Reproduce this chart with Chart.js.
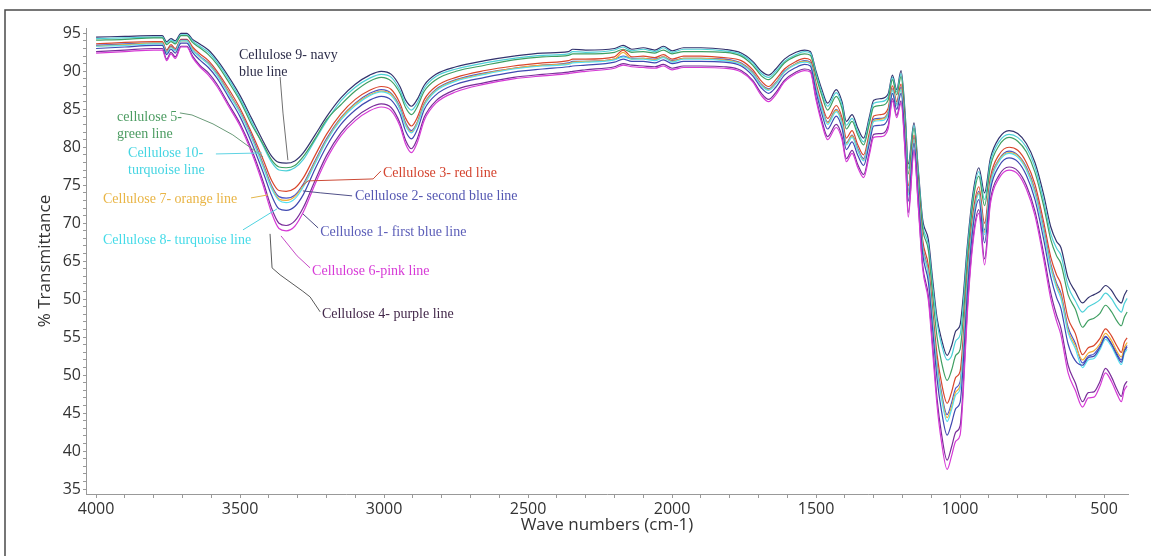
<!DOCTYPE html>
<html>
<head>
<meta charset="utf-8">
<script src="https://cdn.jsdelivr.net/npm/chart.js@4.4.1/dist/chart.umd.min.js"></script>
<style>
  html, body { margin: 0; padding: 0; background: #fff; }
  #wrap { width: 1151px; height: 556px; }
</style>
</head>
<body>
<div id="wrap"><canvas id="myChart" width="1151" height="556"></canvas></div>
<script>

var waveNumbers = [4000,3900,3800,3770,3755,3740,3725,3705,3685,3665,
  3640,3610,3580,3540,3500,3460,3420,3390,3365,3340,
  3310,3280,3240,3200,3150,3100,3050,3010,2975,2945,
  2925,2905,2885,2860,2820,2750,2650,2550,2450,2360,
  2345,2300,2200,2170,2140,2100,2060,2030,2000,1960,
  1900,1820,1760,1720,1690,1665,1640,1610,1570,1540,
  1520,1500,1480,1460,1430,1410,1395,1375,1355,1335,
  1315,1300,1275,1250,1235,1220,1205,1190,1180,1160,
  1145,1130,1110,1095,1080,1065,1045,1030,1015,1000,
  990,975,955,935,915,895,865,830,800,770,
  740,710,685,665,650,625,600,575,555,535,
  515,495,475,455,440,430,420];

var cellulose1 = [93.0,93.2,93.4,93.4,92.2,92.9,92.4,93.7,93.7,92.5,
  91.5,90.5,89.1,86.6,84.0,80.6,76.7,73.6,71.9,71.7,
  72.2,73.8,77.1,80.1,83.0,84.9,86.2,86.7,86.2,84.4,
  82.1,81.1,82.3,85.0,86.9,88.3,89.2,89.9,90.3,90.6,
  90.7,90.8,91.2,91.6,91.3,91.3,91.1,91.5,91.0,91.3,
  91.3,91.2,90.7,89.4,87.8,87.1,87.9,89.5,90.5,90.9,
  90.7,87.3,84.4,82.4,84.1,82.5,79.7,80.7,78.9,77.6,
  80.5,82.8,82.9,83.8,87.1,85.0,87.1,80.2,72.9,80.5,
  73.5,66.0,62.2,55.9,49.5,45.4,42.1,43.6,45.6,46.4,
  50.9,60.7,69.5,73.1,67.4,74.3,77.5,78.6,78.1,76.3,
  73.1,67.9,62.9,60.2,58.8,54.1,51.9,51.3,52.3,52.5,
  53.6,55.0,54.1,52.6,51.7,53.1,53.7];

var cellulose2 = [93.4,93.6,93.7,93.7,92.6,93.3,92.8,94.1,94.1,92.9,
  92.0,91.1,89.7,87.3,84.7,81.5,77.8,74.9,73.5,73.3,
  73.7,75.2,78.2,81.1,83.9,85.8,87.1,87.6,87.1,85.3,
  83.2,82.2,83.3,85.8,87.6,88.9,89.8,90.4,90.8,91.1,
  91.3,91.3,91.6,92.0,91.7,91.7,91.6,91.9,91.4,91.7,
  91.7,91.6,91.1,89.9,88.3,87.7,88.5,90.0,91.0,91.4,
  91.2,88.0,85.3,83.3,85.0,83.4,80.6,81.6,79.8,78.5,
  81.4,83.7,83.8,84.6,87.7,85.7,87.9,81.1,74.2,81.2,
  74.4,67.1,63.6,57.6,51.5,47.8,44.8,46.3,48.3,49.1,
  53.2,62.3,70.6,74.2,69.1,75.4,78.4,79.5,79.0,77.4,
  74.4,69.4,64.6,62.1,60.8,56.3,54.2,51.6,52.5,52.8,
  53.8,55.1,54.2,52.8,52.0,53.3,53.9];

var cellulose3 = [93.6,93.8,93.9,93.9,92.8,93.5,93.0,94.2,94.2,93.2,
  92.3,91.4,90.0,87.7,85.1,81.9,78.4,75.6,74.3,74.2,
  74.6,76.0,78.9,81.7,84.4,86.3,87.5,88.0,87.6,85.8,
  83.8,82.8,83.9,86.3,88.0,89.2,90.1,90.7,91.1,91.4,
  91.6,91.6,91.9,92.8,91.9,92.0,91.8,92.2,91.6,92.0,
  92.0,91.8,91.4,90.2,88.7,88.0,88.9,90.3,91.3,91.7,
  91.5,88.4,85.7,83.8,85.5,83.9,81.2,82.2,80.3,79.0,
  81.9,84.1,84.3,85.1,88.1,86.0,88.3,81.7,74.9,81.6,
  74.9,67.8,64.4,58.5,52.7,49.1,46.3,47.7,49.7,50.5,
  54.5,63.2,71.3,74.8,70.0,76.0,79.0,80.0,79.6,78.0,
  75.1,70.2,65.5,63.2,62.0,57.5,55.5,52.7,53.6,53.9,
  54.8,56.1,55.2,53.8,53.0,54.3,54.9];

var cellulose4 = [92.6,92.8,93.0,93.0,91.6,92.5,91.9,93.3,93.3,92.0,
  90.8,89.8,88.3,85.7,83.1,79.7,75.5,71.9,70.0,69.7,
  70.3,72.1,75.6,78.9,81.9,83.9,85.2,85.7,85.2,83.2,
  80.9,79.8,81.1,84.0,86.1,87.6,88.5,89.2,89.6,89.9,
  90.0,90.2,90.6,91.0,90.8,90.7,90.6,90.9,90.4,90.7,
  90.7,90.6,90.1,88.8,87.1,86.3,87.2,88.8,89.9,90.3,
  90.1,86.5,83.5,81.4,83.0,81.4,78.5,79.6,77.7,76.4,
  79.4,81.7,81.8,82.8,86.4,84.2,86.1,78.9,71.4,79.7,
  72.4,64.5,60.4,53.8,46.9,42.4,38.8,40.5,42.5,43.3,
  48.0,58.7,68.0,71.8,65.3,73.0,76.3,77.4,76.9,75.0,
  71.6,66.0,60.8,57.9,56.2,51.3,49.0,46.5,47.7,47.8,
  49.1,50.9,49.8,48.1,47.2,48.6,49.2];

var cellulose5 = [94.1,94.2,94.4,94.4,93.5,93.9,93.6,94.7,94.7,93.8,
  93.1,92.2,90.9,88.6,86.1,83.0,80.4,78.3,77.4,77.3,
  77.6,78.8,81.1,83.6,85.6,87.4,88.7,89.2,88.7,87.1,
  85.2,84.3,85.3,87.4,88.9,90.0,90.8,91.5,91.9,92.1,
  92.3,92.3,92.5,92.9,92.5,92.6,92.4,92.8,92.3,92.6,
  92.6,92.5,92.0,90.8,89.4,88.9,89.7,91.1,92.0,92.3,
  92.1,89.3,86.8,84.9,86.7,85.1,82.4,83.4,81.6,80.3,
  83.1,85.3,85.5,86.2,88.9,86.9,89.3,83.0,76.5,82.5,
  76.1,69.3,66.4,60.4,55.0,51.8,49.3,50.6,52.6,53.4,
  57.1,65.0,72.8,76.2,72.3,77.4,80.2,81.3,80.8,79.4,
  76.7,72.3,67.8,65.7,64.7,60.6,58.7,56.3,57.2,57.5,
  58.1,59.2,58.4,57.1,56.5,57.6,58.3];

var cellulose6 = [92.4,92.6,92.8,92.8,91.4,92.3,91.7,93.2,93.2,91.8,
  90.6,89.5,88.0,85.4,82.8,79.3,75.0,71.3,69.3,69.0,
  69.6,71.5,75.1,78.4,81.5,83.5,84.8,85.3,84.8,82.8,
  80.4,79.3,80.6,83.6,85.8,87.3,88.3,89.0,89.4,89.7,
  89.8,90.0,90.4,90.8,90.6,90.5,90.4,90.7,90.2,90.5,
  90.5,90.4,89.9,88.6,86.8,86.0,86.9,88.6,89.7,90.1,
  89.9,86.2,83.1,81.0,82.6,81.0,78.1,79.2,77.3,76.0,
  79.0,81.3,81.4,82.4,86.1,83.9,85.8,78.5,70.8,79.4,
  72.0,64.0,59.8,53.0,46.0,41.3,37.6,39.3,41.3,42.1,
  47.0,58.0,67.5,71.3,64.5,72.5,75.9,77.0,76.5,74.5,
  71.0,65.3,60.0,57.1,55.3,50.3,48.0,45.8,47.0,47.1,
  48.5,50.3,49.2,47.5,46.5,48.0,48.6];

var cellulose7 = [93.3,93.5,93.7,93.7,92.5,93.2,92.7,94.0,94.0,92.9,
  91.9,91.0,89.6,87.2,84.6,81.3,77.6,74.7,73.2,73.0,
  73.5,75.0,78.0,80.9,83.8,85.7,86.9,87.4,87.0,85.1,
  83.0,82.0,83.2,85.7,87.5,88.8,89.7,90.4,90.8,91.0,
  91.2,91.3,91.6,92.5,91.6,91.7,91.5,91.9,91.3,91.7,
  91.7,91.5,91.0,89.8,88.2,87.6,88.4,89.9,91.0,91.3,
  91.1,87.9,85.1,83.2,84.9,83.3,80.5,81.5,79.6,78.3,
  81.3,83.5,83.7,84.5,87.6,85.6,87.7,81.0,74.0,81.1,
  74.3,66.9,63.4,57.3,51.2,47.4,44.4,45.8,47.8,48.6,
  52.9,62.0,70.4,74.0,68.8,75.2,78.3,79.3,78.9,77.2,
  74.2,69.1,64.3,61.8,60.5,55.9,53.9,52.0,52.9,53.2,
  54.1,55.5,54.6,53.1,52.4,53.6,54.3];

var cellulose8 = [93.3,93.4,93.6,93.6,92.4,93.1,92.7,94.0,94.0,92.8,
  91.9,90.9,89.5,87.0,84.5,81.2,77.4,74.5,73.0,72.7,
  73.2,74.8,77.8,80.8,83.6,85.5,86.8,87.3,86.8,85.0,
  82.8,81.9,83.0,85.5,87.4,88.7,89.6,90.3,90.7,90.9,
  91.1,91.2,91.5,91.9,91.6,91.6,91.4,91.8,91.2,91.6,
  91.6,91.4,90.9,89.7,88.1,87.5,88.3,89.9,90.9,91.2,
  91.0,87.8,85.0,83.0,84.7,83.1,80.3,81.3,79.5,78.2,
  81.1,83.4,83.5,84.3,87.5,85.5,87.6,80.8,73.7,81.0,
  74.1,66.7,63.2,57.0,50.8,47.0,43.9,45.4,47.4,48.2,
  52.5,61.8,70.2,73.8,68.5,75.0,78.1,79.2,78.7,77.0,
  73.9,68.9,64.0,61.5,60.1,55.6,53.5,51.0,52.0,52.2,
  53.3,54.7,53.8,52.3,51.4,52.8,53.4];

var cellulose9 = [94.5,94.6,94.7,94.7,93.9,94.3,94.0,95.0,95.0,94.2,
  93.6,92.8,91.5,89.3,86.8,83.8,80.8,78.8,78.0,77.9,
  78.2,79.3,81.6,84.0,86.5,88.3,89.5,90.0,89.6,88.0,
  86.2,85.4,86.3,88.2,89.6,90.6,91.4,92.0,92.4,92.6,
  92.9,92.8,93.0,93.4,92.9,93.1,92.8,93.3,92.7,93.1,
  93.1,92.9,92.4,91.3,90.0,89.5,90.3,91.6,92.5,92.8,
  92.6,90.0,87.6,85.8,87.6,86.0,83.4,84.3,82.5,81.2,
  84.0,86.2,86.4,87.0,89.5,87.6,90.1,84.0,77.8,83.2,
  77.0,70.5,67.8,62.5,57.5,54.8,52.6,53.8,55.8,56.6,
  60.0,67.0,74.0,77.3,74.0,78.5,81.2,82.2,81.8,80.5,
  78.0,73.8,69.5,67.6,66.8,62.8,61.0,59.5,60.2,60.6,
  61.0,61.8,61.2,60.0,59.5,60.5,61.2];

var cellulose10 = [94.3,94.4,94.5,94.5,93.7,94.1,93.8,94.8,94.8,94.0,
  93.3,92.5,91.2,89.0,86.4,83.4,80.2,78.0,77.0,76.9,
  77.3,78.4,80.9,83.4,86.1,87.9,89.1,89.6,89.2,87.5,
  85.7,84.9,85.8,87.8,89.3,90.3,91.1,91.7,92.1,92.3,
  92.6,92.5,92.8,93.2,92.7,92.9,92.6,93.1,92.5,92.9,
  92.9,92.7,92.2,91.1,89.7,89.2,90.0,91.3,92.2,92.6,
  92.4,89.7,87.2,85.4,87.2,85.6,82.9,83.8,82.0,80.7,
  83.6,85.8,86.0,86.6,89.2,87.3,89.7,83.5,77.2,82.9,
  76.6,69.9,67.1,61.6,56.9,54.1,52.0,52.5,54.5,55.3,
  58.8,66.2,73.4,76.8,73.1,78.0,80.7,81.7,81.3,80.0,
  77.4,73.0,68.6,66.7,65.8,61.7,59.8,58.3,59.0,59.4,
  59.9,60.8,60.1,58.9,58.3,59.4,60.1];

var xTickLabels = [4000, 3500, 3000, 2500, 2000, 1500, 1000, 500];
var yTickValues = [35, 40, 45, 50, 55, 60, 65, 70, 75, 80, 85, 90, 95];
var yTickLabels = ['35', '40', '45', '50', '55', '50', '65', '70', '75', '80', '85', '90', '95'];

// label text, anchor and leader line, all in data units (wave number, %T)
var notes = [
  { text: ['Cellulose 9- navy', 'blue line'], at: [3504, 92.15], color: '#2d2d4a', lineColor: '#707070',
    leader: [[3361, 89.25], [3351, 84.5], [3334, 78.3]] },
  { text: ['cellulose 5-', 'green line'], at: [3927, 83.99], color: '#4c9c62', lineColor: '#6a9a78',
    leader: [[3709, 84.52], [3667, 84.25], [3594, 83.07], [3525, 81.62], [3420, 78.73]] },
  { text: ['Cellulose 10-', 'turquoise line'], at: [3889, 79.25], color: '#45d5e2', lineColor: '#5fd3e3',
    leader: [[3584, 79.12], [3424, 79.25]] },
  { text: ['Cellulose 7- orange line'], at: [3976, 73.2], color: '#e9b546', lineColor: '#e3b64a',
    leader: [[3462, 73.33], [3403, 73.73]] },
  { text: ['Cellulose 8- turquoise line'], at: [3976, 67.8], color: '#45dbe8', lineColor: '#50d3e0',
    leader: [[3490, 69.12], [3372, 71.88]] },
  { text: ['Cellulose 3- red line'], at: [3004, 76.62], color: '#d4442f', lineColor: '#cc4a36',
    leader: [[3011, 76.88], [3038, 75.83], [3264, 75.57], [3288, 74.78]] },
  { text: ['Cellulose 2- second blue line'], at: [3101, 73.6], color: '#5457b2', lineColor: '#505088',
    leader: [[3111, 73.6], [3222, 74.0], [3282, 74.25]] },
  { text: ['Cellulose 1- first blue line'], at: [3222, 68.86], color: '#5b5db8', lineColor: '#4a4a80',
    leader: [[3229, 69.38], [3282, 71.23]] },
  { text: ['Cellulose 6-pink line'], at: [3250, 63.6], color: '#d73ad7', lineColor: '#c64ac6',
    leader: [[3257, 64.12], [3302, 65.7], [3358, 68.33]] },
  { text: ['Cellulose 4- purple line'], at: [3216, 58.07], color: '#43284a', lineColor: '#5a5a5a',
    leader: [[3222, 58.33], [3257, 60.3], [3282, 61.04], [3361, 63.2], [3389, 64.12], [3396, 68.6]] }
];

function toPoints(values) {
  return values.map(function (v, i) { return { x: waveNumbers[i], y: v }; });
}

function line(label, values, color) {
  return {
    label: label,
    data: toPoints(values),
    borderColor: color,
    borderWidth: 1.2,
    pointRadius: 0,
    fill: false,
    cubicInterpolationMode: 'monotone'
  };
}

var notePlugin = {
  id: 'notes',
  afterDatasetsDraw: function (chart) {
    var ctx = chart.ctx, xs = chart.scales.x, ys = chart.scales.y;
    ctx.save();
    notes.forEach(function (n) {
      ctx.strokeStyle = n.lineColor;
      ctx.lineWidth = 1;
      ctx.beginPath();
      n.leader.forEach(function (p, i) {
        var px = xs.getPixelForValue(p[0]), py = ys.getPixelForValue(p[1]);
        if (i === 0) ctx.moveTo(px, py); else ctx.lineTo(px, py);
      });
      ctx.stroke();
      ctx.fillStyle = n.color;
      ctx.font = '14px "Liberation Serif", "Times New Roman", serif';
      ctx.textAlign = 'left';
      ctx.textBaseline = 'middle';
      var x0 = xs.getPixelForValue(n.at[0]), y0 = ys.getPixelForValue(n.at[1]);
      n.text.forEach(function (t, i) { ctx.fillText(t, x0, y0 + i * 17); });
    });
    ctx.restore();
  }
};

// thin frame on top and left, like the screenshot
var framePlugin = {
  id: 'frame',
  afterDraw: function (chart) {
    var ctx = chart.ctx;
    ctx.save();
    ctx.strokeStyle = '#4a4a4a';
    ctx.lineWidth = 1.5;
    ctx.beginPath();
    ctx.moveTo(5, 556);
    ctx.lineTo(5, 10);
    ctx.lineTo(1151, 10);
    ctx.stroke();
    ctx.restore();
  }
};

function viewChart() {
  var ctx = document.getElementById('myChart').getContext('2d');

  var myChart = new Chart(ctx, {
    type: 'line',
    data: {
      datasets: [
        line('Cellulose 6', cellulose6, '#d63ad6'),
        line('Cellulose 4', cellulose4, '#7a2c9a'),
        line('Cellulose 1', cellulose1, '#3f48b0'),
        line('Cellulose 8', cellulose8, '#56e0f0'),
        line('Cellulose 7', cellulose7, '#f0ad35'),
        line('Cellulose 2', cellulose2, '#4a55c8'),
        line('Cellulose 3', cellulose3, '#d9452b'),
        line('Cellulose 5', cellulose5, '#3f9f62'),
        line('Cellulose 10', cellulose10, '#4dd0d8'),
        line('Cellulose 9', cellulose9, '#33336e')
      ]
    },
    options: {
      responsive: false,
      animation: false,
      devicePixelRatio: 1,
      layout: { padding: { top: 28, right: 23, left: 0, bottom: 0 } },
      plugins: { legend: { display: false }, tooltip: { enabled: false } },
      scales: {
        x: {
          type: 'linear',
          reverse: true,
          min: 417,
          max: 4035,
          afterBuildTicks: function (scale) {
            var t = [];
            for (var v = 500; v <= 4000; v += 100) t.push({ value: v });
            scale.ticks = t;
          },
          afterFit: function (scale) { scale.height = 62; },
          ticks: {
            autoSkip: false,
            maxRotation: 0,
            padding: 2,
            color: '#333',
            font: { family: 'Open Sans', size: 16 },
            callback: function (v) { return xTickLabels.indexOf(v) >= 0 ? String(v) : ''; }
          },
          grid: { drawOnChartArea: false, tickLength: 4, color: '#999' },
          border: { color: '#999' },
          title: {
            display: true,
            text: 'Wave numbers (cm-1)',
            color: '#333',
            font: { family: 'Open Sans', size: 17 },
            padding: { top: 0, bottom: 21 }
          }
        },
        y: {
          min: 34.35,
          max: 95.7,
          afterBuildTicks: function (scale) {
            var t = [];
            for (var v = 35; v <= 95; v += 1) t.push({ value: v });
            scale.ticks = t;
          },
          afterFit: function (scale) { scale.width = 86; },
          ticks: {
            autoSkip: false,
            padding: 2,
            color: '#333',
            font: { family: 'Open Sans', size: 16 },
            callback: function (v) {
              var k = yTickValues.indexOf(v);
              return k >= 0 ? yTickLabels[k] : '';
            }
          },
          grid: { drawOnChartArea: false, tickLength: 3, color: '#999' },
          border: { color: '#999' },
          title: {
            display: true,
            text: '% Transmittance',
            color: '#333',
            font: { family: 'Open Sans', size: 17 },
            padding: { top: 35, bottom: 0 }
          }
        }
      }
    },
    plugins: [notePlugin, framePlugin]
  });
}
viewChart();
</script>
</body>
</html>
